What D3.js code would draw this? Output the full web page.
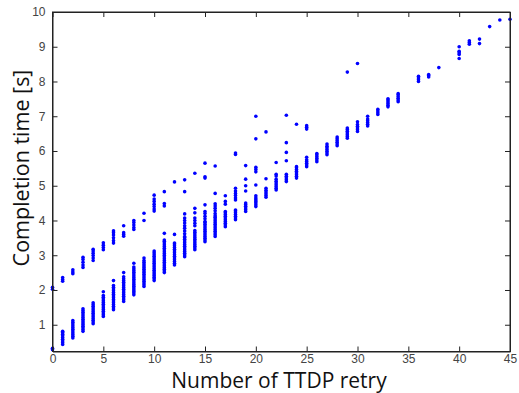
<!DOCTYPE html>
<html>
<head>
<meta charset="utf-8">
<script src="https://cdn.jsdelivr.net/npm/d3@7"></script>
<style>
  body { margin: 0; background: #fff; }
  svg { display: block; font-family: "Open Sans", "Noto Sans", sans-serif; }
  .axis text { fill: #444; font-size: 12px; }
  .axis path, .axis line { stroke: #222; }
</style>
</head>
<body>
<div id="chart"></div>
<script>
// retry counts (x) and the completion times observed for each of them
const retries = [0,1,2,3,4,5,6,7,8,9,10,11,12,13,14,15,16,17,18,19,20,21,22,23,24,25,26,27,28,29,30,31,32,33,34,36,37,38,40,41,42,43,44,45];

const times = [
  [0.28,0.32,2.02,2.08],
  [0.43,0.48,0.53,0.58,0.63,0.68,0.73,0.78,0.81,2.25,2.30,2.36],
  [0.62,0.67,0.72,0.77,0.82,0.87,0.92,0.97,1.02,1.07,1.12,2.47,2.52,2.58],
  [0.81,0.86,0.91,0.96,1.01,1.06,1.11,1.16,1.21,1.26,1.31,1.36,1.41,1.46,2.65,2.72,2.80,2.88,2.94],
  [1.03,1.08,1.13,1.18,1.23,1.28,1.33,1.38,1.43,1.48,1.53,1.58,1.63,2.85,2.92,2.99,3.06,3.12,3.17],
  [1.24,1.29,1.34,1.39,1.44,1.49,1.54,1.59,1.64,1.69,1.74,1.79,1.84,1.95,3.16,3.22,3.29,3.36],
  [1.43,1.48,1.53,1.58,1.63,1.68,1.73,1.78,1.83,1.88,1.93,1.98,2.03,2.08,2.13,2.27,3.35,3.42,3.50,3.58,3.65,3.70],
  [1.67,1.72,1.77,1.82,1.87,1.92,1.97,2.02,2.07,2.12,2.17,2.22,2.27,2.32,2.38,2.50,3.55,3.60,3.65,3.85],
  [1.86,1.91,1.96,2.01,2.06,2.11,2.16,2.21,2.26,2.31,2.36,2.41,2.46,2.51,2.56,2.61,2.66,2.77,3.74,3.80,3.87,3.94,4.00],
  [2.10,2.15,2.20,2.25,2.30,2.35,2.40,2.45,2.50,2.55,2.60,2.65,2.70,2.75,2.80,2.85,2.92,4.00,4.21],
  [2.27,2.32,2.37,2.42,2.47,2.52,2.57,2.62,2.67,2.72,2.77,2.82,2.87,2.92,2.97,3.02,3.07,3.12,4.27,4.33,4.40,4.47,4.55,4.62,4.73],
  [2.50,2.55,2.60,2.65,2.70,2.75,2.80,2.85,2.90,2.95,3.00,3.05,3.10,3.15,3.20,3.25,3.30,3.35,3.40,3.44,3.63,4.42,4.49,4.83],
  [2.72,2.77,2.82,2.87,2.92,2.97,3.02,3.07,3.12,3.17,3.22,3.27,3.32,3.35,3.60,5.11],
  [2.96,3.01,3.06,3.11,3.16,3.21,3.26,3.31,3.36,3.41,3.46,3.51,3.54,3.62,3.70,3.78,3.85,3.93,4.00,4.07,4.19,4.83,5.17],
  [3.16,3.21,3.26,3.31,3.36,3.41,3.46,3.51,3.56,3.61,3.66,3.71,3.85,3.92,4.00,4.07,4.22,4.35,5.36],
  [3.39,3.44,3.49,3.54,3.59,3.64,3.69,3.74,3.79,3.84,3.89,3.94,3.97,4.05,4.12,4.20,4.26,4.45,5.22,5.26,5.65],
  [3.54,3.59,3.64,3.69,3.74,3.79,3.84,3.89,3.94,3.99,4.04,4.09,4.14,4.20,4.28,4.35,4.42,4.48,4.78,5.57],
  [3.82,3.87,3.92,3.97,4.02,4.07,4.12,4.17,4.22,4.26,4.47,4.55,4.71],
  [4.02,4.07,4.12,4.17,4.22,4.27,4.30,4.59,4.65,4.72,4.78,4.85,4.93,5.90,5.94],
  [4.26,4.31,4.36,4.41,4.46,4.50,4.85,5.00,5.19,5.58],
  [4.40,4.45,4.50,4.55,4.60,4.65,4.71,5.02,5.40,5.47,5.53,6.35,7.00],
  [4.67,4.72,4.77,4.82,4.87,4.93,5.20,6.55],
  [4.88,4.93,4.98,5.03,5.08,5.13,5.19,5.28,5.33,5.67],
  [5.12,5.17,5.22,5.27,5.33,5.72,5.96,6.24,7.03],
  [5.22,5.27,5.32,5.37,5.42,5.47,5.52,5.55,6.77],
  [5.55,5.60,5.65,5.70,5.75,5.82,6.63,6.68,6.73],
  [5.69,5.74,5.79,5.84,5.89,5.93],
  [5.89,5.94,5.99,6.04,6.09,6.14,6.20],
  [6.15,6.20,6.25,6.30,6.35,6.40],
  [6.37,6.42,6.47,6.52,6.57,6.62,6.66,8.27],
  [6.56,6.61,6.66,6.71,6.76,6.84,8.52],
  [6.72,6.77,6.82,6.87,6.92,7.00],
  [7.05,7.10,7.15,7.20],
  [7.27,7.32,7.37,7.42,7.47,7.50],
  [7.42,7.47,7.52,7.57,7.62,7.65],
  [8.00,8.05,8.10,8.15],
  [8.13,8.17,8.20],
  [8.40],
  [8.66,8.78,8.83,8.87,9.00],
  [9.07,9.12,9.17],
  [9.09,9.22],
  [9.58],
  [9.77],
  [9.79]
];

const xTicks = [0,5,10,15,20,25,30,35,40,45];
const yTicks = [1,2,3,4,5,6,7,8,9,10];

const width = 519, height = 393;
const margin = { top: 12, right: 9, bottom: 41.5, left: 52.5 };

const points = [];
retries.forEach((r, i) => times[i].forEach(t => points.push({ r, t })));

const svg = d3.select('#chart').append('svg')
  .attr('width', width)
  .attr('height', height);

const x = d3.scaleLinear()
  .domain([0, 45])
  .range([margin.left, width - margin.right]);

const y = d3.scaleLinear()
  .domain([0.23, 10])
  .range([height - margin.bottom, margin.top]);

// dots first so the box sits on top
svg.append('g')
  .selectAll('circle')
  .data(points)
  .join('circle')
    .attr('cx', d => x(d.r))
    .attr('cy', d => y(d.t))
    .attr('r', 1.8)
    .attr('fill', '#0000ff');

const bottom = height - margin.bottom;
const right = width - margin.right;

svg.append('g')
  .attr('class', 'axis')
  .attr('transform', `translate(0,${bottom})`)
  .call(d3.axisBottom(x).tickValues(xTicks).tickSizeInner(-5).tickSizeOuter(0).tickPadding(2.5));

svg.append('g')
  .attr('class', 'axis')
  .attr('transform', `translate(${margin.left},0)`)
  .call(d3.axisLeft(y).tickValues(yTicks).tickSizeInner(-5).tickSizeOuter(0).tickPadding(7));

svg.append('g')
  .attr('class', 'axis')
  .attr('transform', `translate(0,${margin.top})`)
  .call(d3.axisTop(x).tickValues(xTicks).tickSizeInner(-5).tickSizeOuter(0).tickFormat(''));

svg.append('g')
  .attr('class', 'axis')
  .attr('transform', `translate(${right},0)`)
  .call(d3.axisRight(y).tickValues(yTicks).tickSizeInner(-5).tickSizeOuter(0).tickFormat(''));

svg.append('rect')
  .attr('x', margin.left)
  .attr('y', margin.top)
  .attr('width', right - margin.left)
  .attr('height', bottom - margin.top)
  .attr('fill', 'none')
  .attr('stroke', '#222');

svg.append('text')
  .attr('x', 279)
  .attr('y', 387.5)
  .attr('text-anchor', 'middle')
  .attr('font-size', 21)
  .attr('fill', '#111')
  .text('Number of TTDP retry');

svg.append('text')
  .attr('transform', `translate(29,168) rotate(-90)`)
  .attr('text-anchor', 'middle')
  .attr('font-size', 21.5)
  .attr('fill', '#111')
  .text('Completion time [s]');
</script>
</body>
</html>
